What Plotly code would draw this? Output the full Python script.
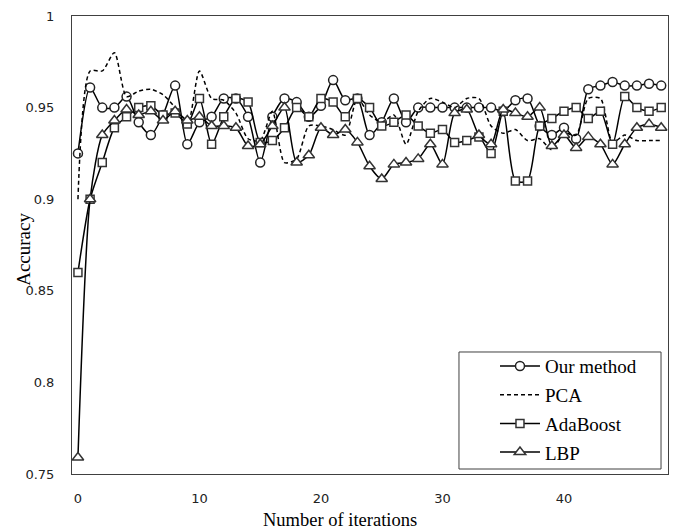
import plotly.graph_objects as go

iterations = list(range(49))

ours = [0.925, 0.961, 0.950, 0.950, 0.956, 0.942, 0.935, 0.946, 0.962, 0.930,
        0.942, 0.945, 0.955, 0.955, 0.945, 0.920, 0.945, 0.955, 0.953, 0.945,
        0.951, 0.965, 0.954, 0.955, 0.935, 0.942, 0.955, 0.942, 0.950, 0.950,
        0.950, 0.950, 0.950, 0.950, 0.950, 0.948, 0.954, 0.955, 0.940, 0.935,
        0.939, 0.933, 0.960, 0.962, 0.964, 0.962, 0.962, 0.963, 0.962]

pca = [0.900, 0.970, 0.970, 0.980, 0.956, 0.959, 0.960, 0.957, 0.950, 0.940,
       0.970, 0.955, 0.954, 0.947, 0.933, 0.932, 0.948, 0.920, 0.922, 0.940,
       0.940, 0.938, 0.935, 0.955, 0.946, 0.942, 0.946, 0.930, 0.948, 0.955,
       0.953, 0.950, 0.955, 0.955, 0.940, 0.936, 0.938, 0.932, 0.933, 0.927,
       0.936, 0.935, 0.955, 0.955, 0.931, 0.935, 0.932, 0.932, 0.932]

adaboost = [0.860, 0.900, 0.920, 0.939, 0.945, 0.950, 0.951, 0.946, 0.947, 0.941,
            0.955, 0.930, 0.945, 0.955, 0.953, 0.931, 0.932, 0.939, 0.950, 0.945,
            0.955, 0.953, 0.945, 0.955, 0.950, 0.940, 0.942, 0.946, 0.940, 0.936,
            0.938, 0.931, 0.932, 0.934, 0.925, 0.948, 0.910, 0.910, 0.940, 0.944,
            0.948, 0.950, 0.944, 0.948, 0.930, 0.956, 0.950, 0.948, 0.950]

lbp = [0.759, 0.900, 0.935, 0.943, 0.949, 0.946, 0.948, 0.943, 0.948, 0.943,
       0.945, 0.940, 0.940, 0.939, 0.929, 0.930, 0.940, 0.950, 0.920, 0.924,
       0.939, 0.935, 0.938, 0.931, 0.918, 0.911, 0.919, 0.920, 0.922, 0.930,
       0.919, 0.947, 0.949, 0.935, 0.930, 0.949, 0.947, 0.945, 0.950, 0.929,
       0.935, 0.928, 0.934, 0.930, 0.919, 0.930, 0.939, 0.941, 0.939]

series_names = ["Our method", "PCA", "AdaBoost", "LBP"]
x_ticks = [0, 10, 20, 30, 40]
y_ticks = [0.75, 0.8, 0.85, 0.9, 0.95, 1.0]

fig = go.Figure()

line_kw = dict(shape="spline", smoothing=0.7, color="black", width=1.5)

fig.add_trace(go.Scatter(
    x=iterations, y=ours, name=series_names[0], mode="lines+markers",
    line=line_kw, legendgroup="a",
    marker=dict(symbol="circle", size=9, color="white",
                line=dict(color="#222", width=1.5))))
fig.add_trace(go.Scatter(
    x=iterations, y=pca, name=series_names[1], mode="lines",
    line=dict(line_kw, dash="4px,3px"), legendgroup="b"))
fig.add_trace(go.Scatter(
    x=iterations, y=adaboost, name=series_names[2], mode="lines+markers",
    line=line_kw, legendgroup="c",
    marker=dict(symbol="square", size=8, color="white",
                line=dict(color="#333", width=1.5))))
fig.add_trace(go.Scatter(
    x=iterations, y=lbp, name=series_names[3], mode="lines+markers",
    line=line_kw, legendgroup="d",
    marker=dict(symbol="triangle-up", size=10, color="white",
                line=dict(color="#333", width=1.5))))

tick_font = dict(family="DejaVu Sans", size=13, color="#222")
serif = "Liberation Serif, Times New Roman, serif"

fig.update_layout(
    width=673, height=532,
    margin=dict(l=72, r=5, t=16, b=58),
    paper_bgcolor="white", plot_bgcolor="white",
    showlegend=True,
    legend=dict(
        x=0.7097, y=0.277, xanchor="left", yanchor="top",
        bgcolor="rgba(0,0,0,0)", borderwidth=0,
        font=dict(family=serif, size=19, color="black"),
        itemwidth=40, tracegroupgap=1,
    ),
    xaxis=dict(
        range=[-0.49, 48.56], tickvals=x_ticks, showgrid=False, zeroline=False,
        showline=True, mirror=True, linecolor="#404040", linewidth=1,
        ticks="", tickfont=tick_font, ticklabelstandoff=12,
    ),
    yaxis=dict(
        range=[0.75, 1.0], tickvals=y_ticks, showgrid=False, zeroline=False,
        showline=True, mirror=True, linecolor="#404040", linewidth=1,
        ticks="", tickfont=tick_font, ticklabelstandoff=14,
    ),
    shapes=[dict(
        type="rect", xref="paper", yref="paper",
        x0=0.6493, x1=0.9883, y0=0.0109, y1=0.2664,
        line=dict(color="#404040", width=1), fillcolor="white", layer="above",
    )],
    annotations=[
        dict(text="Accuracy", xref="paper", yref="paper", x=-0.0827, y=0.491,
             xanchor="center", yanchor="middle", textangle=-90, showarrow=False,
             font=dict(family=serif, size=19, color="black")),
        dict(text="Number of iterations", xref="paper", yref="paper",
             x=0.4497, y=-0.1004, xanchor="center", yanchor="middle",
             showarrow=False, font=dict(family=serif, size=18.5, color="black")),
    ],
)

fig.write_html("out.html",
               config={"displayModeBar": False},
               post_script="document.body.style.margin='0';document.body.style.padding='0';")
